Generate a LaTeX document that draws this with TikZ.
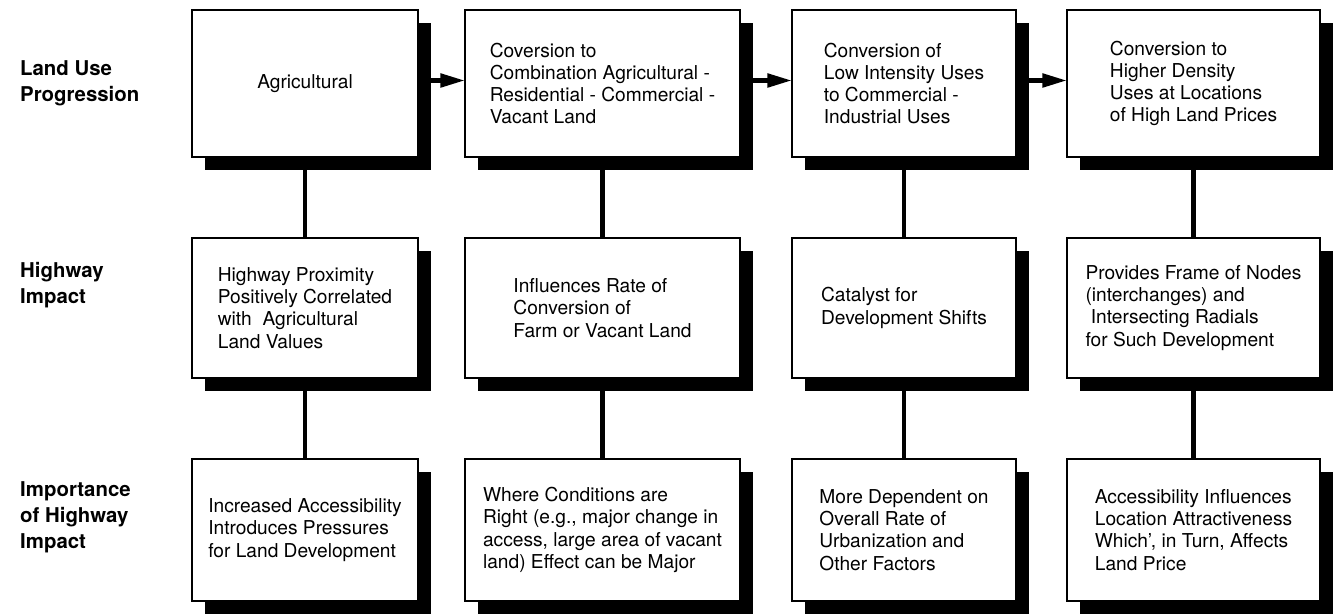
\documentclass[tikz,border=0pt]{standalone}
\usepackage{fontspec}
\setmainfont{TeX Gyre Heros}
\usetikzlibrary{arrows.meta,positioning,shadows}

\begin{document}
\begin{tikzpicture}[
    node distance=1.62cm,
    box/.style={rectangle,draw,line width=0.8pt,fill=white,align=left,
        inner sep=0pt,outer sep=0pt,font=\fontsize{10.9}{12.6}\selectfont,
        drop shadow={shadow xshift=0.26cm,shadow yshift=-0.26cm,fill=black,opacity=1}},
    col one/.style={box,minimum width=4.52cm},
    col two/.style={box,minimum width=5.5cm},
    col three/.style={box,minimum width=4.48cm},
    col four/.style={box,minimum width=5.06cm},
    row label/.style={anchor=west,align=left,font=\bfseries\fontsize{11.6}{14.9}\selectfont},
    link/.style={line width=2.6pt},
    arrow/.style={-{Triangle[length=14pt,width=7.5pt]},line width=2.6pt}
]
\useasboundingbox (0,0) rectangle (26.68,-12.28);

% Land use progression
\node[col one, minimum height=2.94cm, anchor=north west] (agri) at (3.84,-0.2) {Agricultural};
\node[col two, minimum height=2.94cm, right=0.94cm of agri] (mixed) {Coversion to\\Combination Agricultural -\\Residential - Commercial -\\Vacant Land};
\node[col three, minimum height=2.94cm, right=1.04cm of mixed] (commind) {Conversion of\\Low Intensity Uses\\to Commercial -\\Industrial Uses};
\node[col four, minimum height=2.94cm, right=1.02cm of commind] (dense) {Conversion to\\Higher Density\\Uses at Locations\\of High Land Prices};

% Highway impact
\node[col one, minimum height=2.8cm, below=of agri] (proximity) {Highway Proximity\\Positively Correlated\\with\ \ Agricultural\\Land Values};
\node[col two, minimum height=2.8cm, below=of mixed] (rate) {Influences Rate of\\Conversion of\\Farm or Vacant Land};
\node[col three, minimum height=2.8cm, below=of commind] (catalyst) {Catalyst for\\Development Shifts};
\node[col four, minimum height=2.8cm, below=of dense] (frame) {Provides Frame of Nodes\\(interchanges) and\\\ Intersecting Radials\\for Such Development};

% Importance of highway impact
\node[col one, minimum height=2.84cm, below=of proximity] (pressure) {Increased Accessibility\\Introduces Pressures\\for Land Development};
\node[col two, minimum height=2.84cm, below=of rate] (conditions) {Where Conditions are\\Right (e.g., major change in\\access, large area of vacant\\land) Effect can be Major};
\node[col three, minimum height=2.84cm, below=of catalyst] (dependent) {More Dependent on\\Overall Rate of\\Urbanization and\\Other Factors};
\node[col four, minimum height=2.84cm, below=of frame] (price) {Accessibility Influences\\Location Attractiveness\\Which',\ in Turn, Affects\\Land Price};

% Row labels
\node[row label] (lbluse) at (0.28,-1.66) {Land Use\\Progression};
\node[row label] (lblhwy) at (0.28,-5.7) {Highway\\Impact};
\node[row label] (lblimp) at (0.28,-10.34) {Importance\\of Highway\\Impact};

% Progression arrows
\draw[arrow] ([yshift=0.06cm]agri.east) -- ([yshift=0.06cm]mixed.west);
\draw[arrow] ([yshift=0.06cm]mixed.east) -- ([yshift=0.06cm]commind.west);
\draw[arrow] ([yshift=0.06cm]commind.east) -- ([yshift=0.06cm]dense.west);

% Vertical links
\draw[link] (agri) -- (proximity);
\draw[link] (mixed) -- (rate);
\draw[link] (commind) -- (catalyst);
\draw[link] (dense) -- (frame);
\draw[link] (proximity) -- (pressure);
\draw[link] (rate) -- (conditions);
\draw[link] (catalyst) -- (dependent);
\draw[link] (frame) -- (price);

\end{tikzpicture}
\end{document}
